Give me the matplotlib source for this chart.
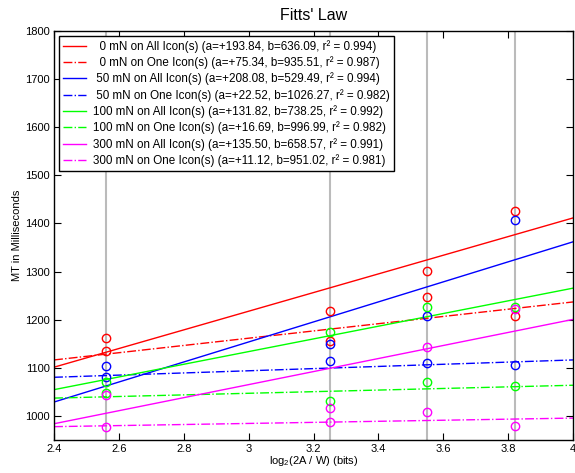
import numpy as np
import matplotlib
matplotlib.use("Agg")
import matplotlib.pyplot as plt

plt.rcParams['font.family'] = ['Liberation Sans', 'DejaVu Sans']
plt.rcParams['mathtext.fontset'] = 'custom'
plt.rcParams['mathtext.rm'] = 'Liberation Sans'
plt.rcParams['mathtext.it'] = 'Liberation Sans'

# index of difficulty (bits) for the four targets
ids = [2.56, 3.25, 3.55, 3.82]

forces = [0, 50, 100, 300]
colors = ['#ff0000', '#0000ff', '#00ff00', '#ff00ff']

# fit parameters (MT = a * ID + b) and r^2 for "All" and "One" conditions
a_all = [193.84, 208.08, 131.82, 135.50]
b_all = [636.09, 529.49, 738.25, 658.57]
r2_all = [0.994, 0.994, 0.992, 0.991]
a_one = [75.34, 22.52, 16.69, 11.12]
b_one = [935.51, 1026.27, 996.99, 951.02]
r2_one = [0.987, 0.982, 0.982, 0.981]

# measured mean MT (ms) at each ID
mt_all = [
    [1161, 1218, 1301, 1426],
    [1103, 1149, 1208, 1407],
    [1070, 1175, 1227, 1227],
    [1044, 1017, 1143, 1223],
]
mt_one = [
    [1134, 1155, 1248, 1208],
    [1080, 1115, 1110, 1106],
    [1048, 1032, 1071, 1063],
    [977, 988, 1008, 980],
]

fig = plt.figure(figsize=(5.75, 4.73), dpi=100)
ax = fig.add_axes([0.094, 0.0698, 0.9025, 0.8647])

xfit = np.array([2.4, 4.0])

for x in ids:
    ax.axvline(x, color='#bbbbbb', lw=1.5, zorder=1)

handles = []
for i in range(len(forces)):
    c = colors[i]
    pad = ' ' * (3 - len(str(forces[i])))
    h1, = ax.plot(xfit, a_all[i] * xfit + b_all[i], '-', color=c, lw=1, zorder=2,
                  label='%s%d mN on All Icon(s) (a=+%.2f, b=%.2f, r\u00b2 = %.3f)'
                  % (pad, forces[i], a_all[i], b_all[i], r2_all[i]))
    h2, = ax.plot(xfit, a_one[i] * xfit + b_one[i], '-.', color=c, lw=1, zorder=2,
                  label='%s%d mN on One Icon(s) (a=+%.2f, b=%.2f, r\u00b2 = %.3f)'
                  % (pad, forces[i], a_one[i], b_one[i], r2_one[i]))
    handles += [h1, h2]
    ax.plot(ids, mt_all[i], 'o', mfc='none', mec=c, ms=6, mew=1, zorder=3)
    ax.plot(ids, mt_one[i], 'o', mfc='none', mec=c, ms=6, mew=1, zorder=3)

ax.set_xlim(2.4, 4)
ax.set_ylim(950, 1800)
ax.set_xticks(np.arange(2.4, 4.01, 0.2))
ax.set_xticklabels(['2.4', '2.6', '2.8', '3', '3.2', '3.4', '3.6', '3.8', '4'])
ax.set_yticks(np.arange(1000, 1801, 100))
ax.tick_params(direction='in', top=True, right=True, length=5, labelsize=8, pad=3)
for s in ax.spines.values():
    s.set_linewidth(1)

ax.set_title("Fitts' Law", fontsize=11.5, pad=8)
ax.set_xlabel('log$_2$(2A / W) (bits)', fontsize=8, labelpad=0)
ax.set_ylabel('MT in Milliseconds', fontsize=8, labelpad=2)

leg = ax.legend(handles=handles, loc='upper left', bbox_to_anchor=(0.0096, 0.988),
                borderaxespad=0, fontsize=8.4, handlelength=2, handletextpad=0.6,
                labelspacing=0.3, borderpad=0.35, fancybox=False, framealpha=1,
                edgecolor='black')
leg.get_frame().set_linewidth(1)

fig.savefig('out.png', dpi=100)
